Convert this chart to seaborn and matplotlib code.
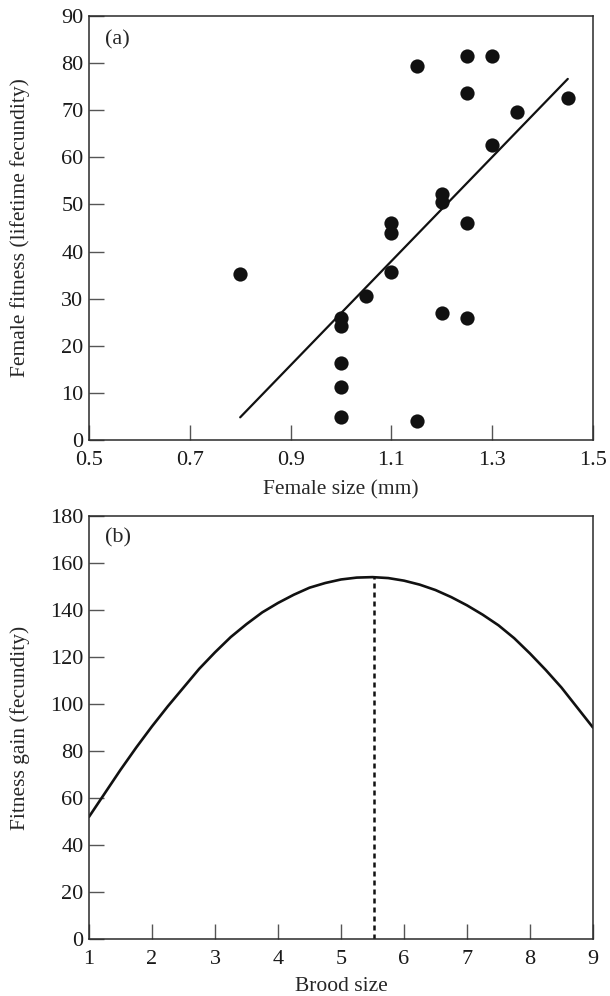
import matplotlib
matplotlib.use("Agg")
import matplotlib.pyplot as plt
import seaborn as sns
import numpy as np
import pandas as pd

# ---- Panel (a) data: female size vs lifetime fecundity ----
female_size = [0.80, 1.00, 1.00, 1.00, 1.00, 1.00, 1.05, 1.10, 1.10, 1.10,
               1.15, 1.15, 1.20, 1.20, 1.20, 1.25, 1.25, 1.25, 1.25,
               1.30, 1.30, 1.35, 1.45]
female_fitness = [35.2, 26.0, 24.1, 16.3, 11.2, 4.8, 30.6, 46.1, 43.9, 35.7,
                  79.5, 4.1, 52.2, 50.6, 26.9, 81.5, 73.6, 46.0, 25.8,
                  81.5, 62.6, 69.6, 72.7]
xticks_a = [0.5, 0.7, 0.9, 1.1, 1.3, 1.5]
yticks_a = [0, 10, 20, 30, 40, 50, 60, 70, 80, 90]

# ---- Panel (b) data: brood size vs fitness gain ----
brood_size = [1.0, 1.25, 1.5, 1.75, 2.0, 2.25, 2.5, 2.75, 3.0, 3.25, 3.5,
              3.75, 4.0, 4.25, 4.5, 4.75, 5.0, 5.25, 5.5, 5.75, 6.0, 6.25,
              6.5, 6.75, 7.0, 7.25, 7.5, 7.75, 8.0, 8.25, 8.5, 8.75, 9.0]
fitness_gain = [52, 62, 72, 81.5, 90.5, 99, 107, 115, 122, 128.5, 134,
                139, 143, 146.5, 149.5, 151.5, 153, 153.8, 154, 153.6, 152.5,
                150.8, 148.5, 145.5, 142, 138, 133.5, 128, 121.5, 114.5, 107,
                98.5, 90]
optimum_brood = 5.53
optimum_gain = 154
xticks_b = [1, 2, 3, 4, 5, 6, 7, 8, 9]
yticks_b = [0, 20, 40, 60, 80, 100, 120, 140, 160, 180]

sns.set_theme(style="ticks")
plt.rcParams['font.family'] = ['Liberation Serif', 'DejaVu Serif']

INK = '#111111'
SPINE = '#2a2a2a'
TICK = '#555555'
FS_TICK = 16
FS_LAB = 15.5

fig = plt.figure(figsize=(6.10, 9.96), dpi=100)
ax1 = fig.add_axes([0.1459, 0.5582, 0.8262, 0.4257])
ax2 = fig.add_axes([0.1459, 0.0572, 0.8262, 0.4247])

df_a = pd.DataFrame({"size": female_size, "fitness": female_fitness})
sns.regplot(data=df_a, x="size", y="fitness", ci=None, ax=ax1,
            scatter_kws=dict(s=105, color=INK, linewidths=0, alpha=1),
            line_kws=dict(color=INK, lw=1.6))

df_b = pd.DataFrame({"brood": brood_size, "gain": fitness_gain})
sns.lineplot(data=df_b, x="brood", y="gain", ax=ax2, color=INK, lw=1.9)
ax2.plot([optimum_brood, optimum_brood], [0, optimum_gain], color=INK,
         lw=1.8, linestyle=(0, (2.0, 1.6)))

ax1.set_xlim(0.5, 1.5)
ax1.set_ylim(0, 90)
ax1.set_xticks(xticks_a)
ax1.set_xticklabels([f"{v:.1f}" for v in xticks_a])
ax1.set_yticks(yticks_a)
ax1.set_xlabel("Female size (mm)", fontsize=FS_LAB, labelpad=7)
ax1.set_ylabel("Female fitness (lifetime fecundity)", fontsize=FS_LAB)
ax1.text(0.032, 0.943, "(a)", transform=ax1.transAxes, fontsize=FS_TICK,
         ha='left', va='center')

ax2.set_xlim(1, 9)
ax2.set_ylim(0, 180)
ax2.set_xticks(xticks_b)
ax2.set_yticks(yticks_b)
ax2.set_xlabel("Brood size", fontsize=FS_LAB, labelpad=6)
ax2.set_ylabel("Fitness gain (fecundity)", fontsize=FS_LAB)
ax2.text(0.032, 0.948, "(b)", transform=ax2.transAxes, fontsize=FS_TICK,
         ha='left', va='center')

for ax in (ax1, ax2):
    for sp in ax.spines.values():
        sp.set_visible(True)
        sp.set_color(SPINE)
        sp.set_linewidth(1.1)
    ax.tick_params(axis='both', direction='in', length=11, width=1.0,
                   color=TICK, labelsize=FS_TICK, labelcolor='#1a1a1a')
    ax.tick_params(axis='x', pad=8)
    ax.tick_params(axis='y', pad=4)
    ax.yaxis.set_label_coords(-0.118, 0.5)

fig.savefig("out.png", dpi=100, facecolor='white')
